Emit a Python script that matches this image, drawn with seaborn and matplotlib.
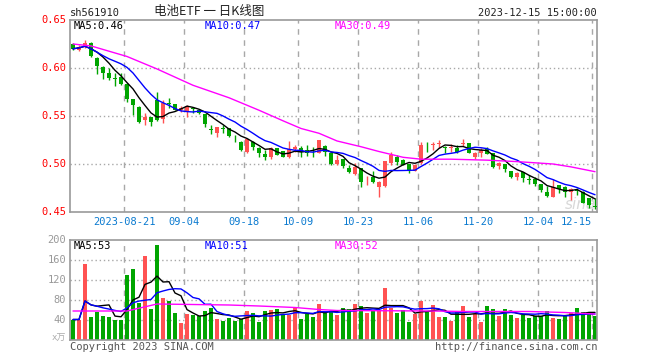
import numpy as np
import pandas as pd
import matplotlib
matplotlib.use("Agg")
import matplotlib.pyplot as plt
import seaborn as sns

# ---------------- data ----------------
dates = pd.bdate_range("2023-08-08", "2023-12-15")
dates = dates[~dates.isin(pd.to_datetime(["2023-09-29", "2023-10-02", "2023-10-03",
                                          "2023-10-04", "2023-10-05", "2023-10-06"]))]

opens = [0.6250, 0.6190, 0.6230, 0.6260, 0.6100, 0.6010, 0.5952, 0.5896, 0.5910, 0.5830,
         0.5677, 0.5598, 0.5460, 0.5487, 0.5667, 0.5466, 0.5630, 0.5626, 0.5563, 0.5556,
         0.5581, 0.5563, 0.5520, 0.5362, 0.5321, 0.5372, 0.5372, 0.5275, 0.5233, 0.5129,
         0.5233, 0.5171, 0.5105, 0.5070, 0.5164, 0.5136, 0.5077, 0.5153, 0.5164, 0.5146,
         0.5138, 0.5119, 0.5188, 0.5119, 0.5000, 0.5049, 0.4963, 0.4893, 0.4956, 0.4831,
         0.4869, 0.4758, 0.4772, 0.5008, 0.5077, 0.5042, 0.4999, 0.4931, 0.5008, 0.5202,
         0.5203, 0.5213, 0.5174, 0.5171, 0.5164, 0.5213, 0.5216, 0.5070, 0.5119, 0.5154,
         0.5112, 0.4980, 0.5001, 0.4928, 0.4869, 0.4918, 0.4838, 0.4841, 0.4793, 0.4713,
         0.4661, 0.4782, 0.4758, 0.4713, 0.4725, 0.4713, 0.4643, 0.4560]
highs = [0.6260, 0.6240, 0.6290, 0.6270, 0.6110, 0.6020, 0.5996, 0.5952, 0.5950, 0.5840,
         0.5680, 0.5600, 0.5530, 0.5490, 0.5754, 0.5667, 0.5685, 0.5630, 0.5600, 0.5615,
         0.5598, 0.5570, 0.5525, 0.5407, 0.5390, 0.5407, 0.5376, 0.5300, 0.5240, 0.5264,
         0.5240, 0.5178, 0.5146, 0.5178, 0.5170, 0.5140, 0.5243, 0.5198, 0.5188, 0.5198,
         0.5181, 0.5255, 0.5198, 0.5120, 0.5094, 0.5050, 0.4990, 0.5008, 0.4960, 0.4876,
         0.4931, 0.4820, 0.5035, 0.5129, 0.5094, 0.5050, 0.5000, 0.4995, 0.5233, 0.5233,
         0.5233, 0.5251, 0.5188, 0.5206, 0.5199, 0.5258, 0.5220, 0.5125, 0.5164, 0.5175,
         0.5115, 0.5025, 0.5003, 0.4930, 0.4915, 0.4920, 0.4886, 0.4869, 0.4795, 0.4772,
         0.4841, 0.4785, 0.4772, 0.4748, 0.4748, 0.4715, 0.4645, 0.4643]
lows = [0.6190, 0.6180, 0.6210, 0.6110, 0.5935, 0.5890, 0.5880, 0.5810, 0.5820, 0.5650,
        0.5510, 0.5430, 0.5410, 0.5400, 0.5450, 0.5432, 0.5580, 0.5560, 0.5540, 0.5487,
        0.5528, 0.5520, 0.5390, 0.5314, 0.5286, 0.5320, 0.5280, 0.5230, 0.5140, 0.5112,
        0.5146, 0.5077, 0.5042, 0.5050, 0.5090, 0.5070, 0.5060, 0.5129, 0.5077, 0.5084,
        0.5077, 0.5110, 0.5084, 0.4990, 0.4990, 0.4956, 0.4910, 0.4886, 0.4765, 0.4782,
        0.4806, 0.4654, 0.4765, 0.4990, 0.4990, 0.4985, 0.4910, 0.4925, 0.5000, 0.5130,
        0.5147, 0.5164, 0.5112, 0.5129, 0.5112, 0.5188, 0.5110, 0.5050, 0.5077, 0.5100,
        0.4956, 0.4945, 0.4921, 0.4852, 0.4834, 0.4817, 0.4793, 0.4772, 0.4713, 0.4654,
        0.4654, 0.4696, 0.4654, 0.4626, 0.4678, 0.4595, 0.4539, 0.4529]
closes = [0.6200, 0.6220, 0.6260, 0.6120, 0.6025, 0.5945, 0.5900, 0.5890, 0.5830, 0.5674,
          0.5615, 0.5442, 0.5487, 0.5442, 0.5460, 0.5640, 0.5626, 0.5563, 0.5580, 0.5605,
          0.5575, 0.5529, 0.5420, 0.5356, 0.5383, 0.5366, 0.5292, 0.5268, 0.5146, 0.5257,
          0.5181, 0.5112, 0.5070, 0.5171, 0.5094, 0.5077, 0.5153, 0.5174, 0.5129, 0.5119,
          0.5133, 0.5250, 0.5129, 0.4997, 0.5042, 0.4980, 0.4921, 0.4973, 0.4817, 0.4837,
          0.4817, 0.4817, 0.5032, 0.5094, 0.5025, 0.4990, 0.4938, 0.4990, 0.5198, 0.5196,
          0.5209, 0.5219, 0.5168, 0.5177, 0.5129, 0.5219, 0.5112, 0.5119, 0.5147, 0.5105,
          0.4973, 0.5008, 0.4945, 0.4869, 0.4911, 0.4852, 0.4834, 0.4793, 0.4730, 0.4668,
          0.4765, 0.4737, 0.4713, 0.4737, 0.4720, 0.4598, 0.4574, 0.4557]
volumes = [41, 41, 152, 47, 57, 48, 47, 40, 40, 130,
           143, 75, 168, 63, 190, 84, 78, 55, 35, 52,
           50, 48, 59, 65, 43, 39, 44, 39, 43, 59,
           55, 37, 59, 60, 63, 52, 51, 67, 43, 53,
           47, 72, 57, 59, 50, 64, 63, 72, 69, 55,
           60, 60, 104, 65, 55, 60, 37, 52, 78, 57,
           70, 46, 46, 39, 57, 68, 47, 52, 37, 68,
           62, 48, 62, 50, 45, 51, 45, 48, 48, 59,
           45, 43, 49, 55, 64, 56, 52, 49]

# 30-day averages (history before the window is not shown)
ma30_idx = [0, 3, 9, 14, 20, 26, 31, 35, 38, 41, 44, 48, 51, 55, 58, 63, 69, 74, 80, 83, 87]
ma30_price = [0.625, 0.623, 0.612, 0.599, 0.582, 0.569, 0.556, 0.545, 0.537, 0.532, 0.524,
              0.518, 0.513, 0.507, 0.505, 0.505, 0.504, 0.5025, 0.500, 0.497, 0.492]
vma30_idx = [0, 9, 14, 26, 31, 37, 41, 44, 60, 65, 76, 82, 87]
vma30_vol = [58, 58, 72, 70, 68, 65, 61, 59, 58, 57, 57, 55, 52]

tick_dates = ["2023-08-21", "2023-09-04", "2023-09-18", "2023-10-09", "2023-10-23",
              "2023-11-06", "2023-11-20", "2023-12-04", "2023-12-15"]
tick_labels = ["2023-08-21", "09-04", "09-18", "10-09", "10-23", "11-06", "11-20", "12-04", "12-15"]
price_ticks = [0.45, 0.50, 0.55, 0.60, 0.65]
vol_ticks = [40, 80, 120, 160, 200]

# ---------------- style ----------------
sns.set_style("white")
plt.rcParams["font.family"] = ["DejaVu Sans Mono", "Noto Sans CJK SC"]

UP = "#ff5252"
DN = "#00a500"
GRID = "#a8a8a8"
FRAME = "#999999"

df = pd.DataFrame({"date": dates[:len(closes)], "open": opens, "high": highs,
                   "low": lows, "close": closes, "vol": volumes})
df["i"] = np.arange(len(df))
df["up"] = df["close"] >= df["open"]
df["ma5"] = df["close"].rolling(5, min_periods=1).mean()
df["ma10"] = df["close"].rolling(10, min_periods=1).mean()
df["vma5"] = df["vol"].rolling(5, min_periods=1).mean()
df["vma10"] = df["vol"].rolling(10, min_periods=1).mean()
colors = np.where(df["up"], UP, DN)

W, H = 660, 360
fig = plt.figure(figsize=(6.6, 3.6), dpi=100)
axp = fig.add_axes([70 / W, (H - 212) / H, 527 / W, 192 / H])
axv = fig.add_axes([70 / W, (H - 340) / H, 527 / W, 100 / H])

tick_idx = [int(np.where(df["date"] == pd.Timestamp(d))[0][0]) for d in tick_dates]
grid_x = [t - 0.5 for t in tick_idx]

for ax in (axp, axv):
    ax.set_xlim(-0.5, 87.33)
    for gx in grid_x:
        ax.axvline(gx, color=GRID, lw=1, ls=(0, (4, 4)), zorder=0)
    for s in ax.spines.values():
        s.set_color(FRAME)
        s.set_linewidth(1.2)
    ax.set_xticks([])
    ax.set_yticks([])
    ax.set_xlabel("")
    ax.set_ylabel("")

# ---- price panel ----
axp.set_ylim(0.45, 0.65)
for p in price_ticks[1:-1]:
    axp.axhline(p, color=GRID, lw=1, ls=(0, (1, 2)), zorder=0)

axp.vlines(df["i"], df["low"], df["high"], colors=colors, lw=1, zorder=2)
body_bot = np.minimum(df["open"], df["close"])
body_h = np.maximum(np.abs(df["close"] - df["open"]), 0.0007)
axp.bar(df["i"], body_h, bottom=body_bot, width=0.8, color=colors, lw=0, zorder=3)

sns.lineplot(x=df["i"], y=df["ma5"], ax=axp, color="black", lw=1, zorder=4)
sns.lineplot(x=df["i"], y=df["ma10"], ax=axp, color="#0000ff", lw=1, zorder=4)
sns.lineplot(x=ma30_idx, y=ma30_price, ax=axp, color="#ff00ff", lw=1, zorder=4)
axp.set_xlabel("")
axp.set_ylabel("")

axp.text(0.3, 0.0, "sina", transform=axp.transData, alpha=0)
axp.text(84.5, 0.458, "sina", fontsize=11, style="italic", color="#d8d8d8",
         ha="center", va="center", zorder=1, family="DejaVu Sans")

# ---- volume panel ----
axv.set_ylim(0, 200)
for v in vol_ticks[:-1]:
    axv.axhline(v, color=GRID, lw=1, ls=(0, (1, 2)), zorder=0)
axv.bar(df["i"], df["vol"], width=0.8, color=colors, lw=0, zorder=2)
sns.lineplot(x=df["i"], y=df["vma5"], ax=axv, color="black", lw=1, zorder=4)
sns.lineplot(x=df["i"], y=df["vma10"], ax=axv, color="#0000ff", lw=1, zorder=4)
sns.lineplot(x=vma30_idx, y=vma30_vol, ax=axv, color="#ff00ff", lw=1, zorder=4)
axv.set_xlabel("")
axv.set_ylabel("")


def px(x, y, s, **kw):
    fig.text(x / W, 1 - y / H, s, **kw)


# axis labels
for p in price_ticks:
    y = 212 - (p - 0.45) / 0.20 * 192
    px(66, y, f"{p:.2f}", color="#ff0000", fontsize=7.5, ha="right", va="center")
for v in vol_ticks:
    y = 340 - v / 200 * 100
    px(66, y, f"{v}", color="#999999", fontsize=7.5, ha="right", va="center")
px(66, 338, "x万", color="#aaaaaa", fontsize=6.5, ha="right", va="center",
   family=["DejaVu Sans Mono", "Noto Sans CJK SC"])

for k, (gx, lab) in enumerate(zip(grid_x, tick_labels)):
    xpix = 70 + (gx + 0.5) * 527 / 87.83
    ha = "right" if k == len(tick_labels) - 1 else "center"
    px(xpix, 222, lab, color="#0a7ad0", fontsize=7.5, ha=ha, va="center")

# header
px(70, 13, "sh561910", color="#222222", fontsize=7.5, ha="left", va="center")
px(209, 12, "电池ETF 一 日K线图", color="#222222", fontsize=9, ha="center", va="center",
   family=["Noto Sans CJK SC", "DejaVu Sans"])
px(597, 13, "2023-12-15 15:00:00", color="#222222", fontsize=7.5, ha="right", va="center")

# MA legends
px(74, 26, "MA5:0.46", color="black", fontsize=7.5, ha="left", va="center")
px(205, 26, "MA10:0.47", color="#0000ff", fontsize=7.5, ha="left", va="center")
px(335, 26, "MA30:0.49", color="#ff00ff", fontsize=7.5, ha="left", va="center")
px(74, 246, "MA5:53", color="black", fontsize=7.5, ha="left", va="center")
px(205, 246, "MA10:51", color="#0000ff", fontsize=7.5, ha="left", va="center")
px(335, 246, "MA30:52", color="#ff00ff", fontsize=7.5, ha="left", va="center")

# footer
px(70, 347, "Copyright 2023 SINA.COM", color="#555555", fontsize=7.5, ha="left", va="center")
px(597, 347, "http://finance.sina.com.cn", color="#555555", fontsize=7.5, ha="right", va="center")

fig.savefig("out.png", dpi=100, facecolor="white")
